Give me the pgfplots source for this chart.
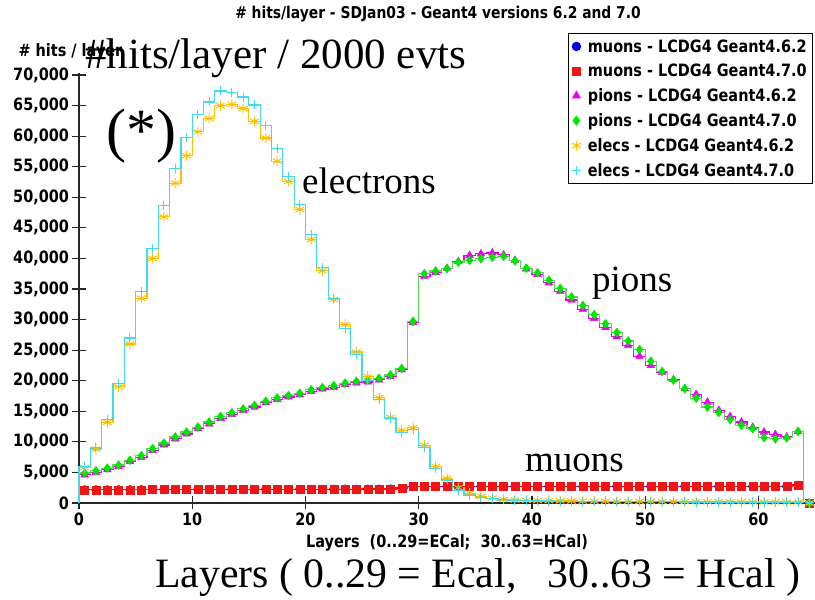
\documentclass[border=0pt]{standalone}
\usepackage{pgfplots}
\pgfplotsset{compat=1.18}
\usepackage{pgfplotstable}
\usepackage{fontspec}
\setmainfont{Liberation Serif}
\newfontfamily\axfont[FakeStretch=0.85]{DejaVu Sans}
\usetikzlibrary{plotmarks}

\definecolor{cyanL}{RGB}{64,218,235}
\definecolor{goldM}{RGB}{255,192,0}
\definecolor{magM}{RGB}{235,0,235}
\definecolor{grnM}{RGB}{0,230,0}
\definecolor{grnL}{RGB}{90,215,90}
\definecolor{redM}{RGB}{240,20,20}
\definecolor{bluM}{RGB}{0,0,230}

\pgfplotstableread{
layer mu62 mu70 pi62 pi70 el62 el70
0 0 0 0 0 0 0
0 2150 2150 4600 4900 5800 6000
1 2150 2150 5000 5250 8800 9000
2 2150 2160 5450 5700 13200 13600
3 2160 2160 6000 6200 19000 19600
4 2160 2170 6800 7000 26000 27000
5 2170 2170 7500 7750 33500 34600
6 2170 2180 8600 8900 40000 41600
7 2180 2180 9500 9800 46800 48600
8 2180 2190 10500 10800 52300 54700
9 2190 2190 11300 11600 56800 59800
10 2190 2200 12150 12400 60700 63500
11 2200 2200 12950 13250 62900 65600
12 2200 2210 13850 14150 65000 67400
13 2210 2210 14500 14750 65200 67200
14 2210 2220 15150 15400 64500 66400
15 2220 2220 15700 15950 62400 65100
16 2220 2230 16400 16650 59700 61800
17 2230 2230 16950 17200 55900 58000
18 2230 2240 17350 17600 52600 53400
19 2240 2240 17700 17950 48000 48800
20 2240 2250 18250 18500 43100 43900
21 2250 2250 18650 18900 38000 38500
22 2250 2260 18950 19200 33300 33400
23 2260 2260 19350 19600 29200 28600
24 2260 2270 19650 19900 24700 24300
25 2270 2280 19800 20050 20700 20000
26 2280 2290 20150 20400 17200 16900
27 2290 2300 20700 20950 14000 13800
28 2400 2450 21800 22000 11900 11500
29 2650 2700 29500 29700 12300 12000
30 2700 2750 37100 37500 9450 9100
31 2720 2750 37700 37950 6000 5650
32 2720 2750 38400 38350 4000 3750
33 2720 2750 39500 39400 2500 2100
34 2720 2750 40500 39700 1600 1300
35 2720 2750 40750 39950 1100 900
36 2720 2750 40900 40200 800 700
37 2720 2750 40600 40350 600 500
38 2720 2750 39700 39600 500 420
39 2720 2750 38300 38400 450 380
40 2720 2750 37400 37650 400 340
41 2720 2750 36000 36450 380 320
42 2720 2750 34600 35100 350 300
43 2720 2750 33200 33700 330 280
44 2720 2750 31700 32300 310 260
45 2720 2750 30200 30800 300 250
46 2720 2750 28700 29300 290 240
47 2720 2750 27200 27900 280 230
48 2720 2750 25800 26500 270 220
49 2720 2750 24000 25100 260 210
50 2720 2750 22500 23200 250 200
51 2720 2750 21400 21500 240 190
52 2720 2750 20200 20100 230 180
53 2720 2750 18700 18700 220 170
54 2720 2750 17750 17150 210 160
55 2720 2750 16500 15700 200 160
56 2720 2750 15150 14800 200 150
57 2720 2750 14150 13650 190 150
58 2720 2750 13250 12700 180 140
59 2720 2750 12400 12150 180 140
60 2720 2750 11600 10700 170 130
61 2720 2750 11200 10500 170 130
62 2720 2750 10800 10650 160 120
63 2900 2950 11700 11700 160 120
64 0 0 0 0 0 0
}\bins

\newcommand{\sfb}{\axfont\bfseries\fontsize{17bp}{19bp}\selectfont}

\begin{document}
\begin{tikzpicture}[x=1bp,y=1bp]
\path[use as bounding box] (-79,-97) rectangle (736,503);
\begin{axis}[
  at={(0,0)}, anchor=south west,
  scale only axis, width=736bp, height=429.8bp,
  xmin=0, xmax=65, ymin=0, ymax=70300,
  axis lines=left,
  axis line style={-, line width=1.3bp, black!85},
  clip=false,
  xtick={0,10,...,60}, ytick={0,5000,...,70000},
  tick align=center, major tick length=13bp,
  tick style={line width=1.2bp, black!85},
  scaled y ticks=false,
  yticklabel style={/pgf/number format/.cd, fixed, 1000 sep={,}},
  /pgf/number format/assume math mode=true,
  ticklabel style={font=\sfb},
  title={\# hits/layer - SDJan03 - Geant4 versions 6.2 and 7.0},
  title style={font=\axfont\bfseries\fontsize{16.3bp}{18bp}\selectfont, at={(axis description cs:0.5,1)}, anchor=center, xshift=-9bp, yshift=53bp},
  xlabel={Layers\ \ (0..29=ECal;\ \ 30..63=HCal)},
  xlabel style={font=\sfb, at={(axis description cs:0.5,0)}, anchor=center, yshift=-40bp},
  ylabel={\# hits / layer},
  ylabel style={rotate=-90, font=\sfb, at={(axis description cs:0,1)}, anchor=west, xshift=-64bp, yshift=21bp},
  legend cell align=left,
  legend style={at={(axis description cs:0.9973,1.0935)}, anchor=north east, draw=black, line width=0.8bp, font=\sfb, row sep=6.5bp, inner ysep=4bp, inner xsep=4bp, /tikz/every odd column/.append style={column sep=5bp}},
]
\addplot[const plot, bluM, line width=1.2bp, forget plot] table[x=layer,y=mu62]{\bins};
\addplot[only marks, mark=*, mark size=4.3bp, bluM, skip coords between index={0}{1}] table[x expr=\thisrow{layer}+0.5, y=mu62]{\bins};
\addlegendentry{muons - LCDG4 Geant4.6.2}
\addplot[const plot, redM, line width=1.2bp, forget plot] table[x=layer,y=mu70]{\bins};
\addplot[only marks, mark=square*, mark size=4bp, redM, skip coords between index={0}{1}] table[x expr=\thisrow{layer}+0.5, y=mu70]{\bins};
\addlegendentry{muons - LCDG4 Geant4.7.0}
\addplot[const plot, magM, line width=1.2bp, forget plot] table[x=layer,y=pi62]{\bins};
\addplot[only marks, mark=triangle*, mark size=4.5bp, magM, skip coords between index={0}{1}] table[x expr=\thisrow{layer}+0.5, y=pi62]{\bins};
\addlegendentry{pions - LCDG4 Geant4.6.2}
\addplot[const plot, grnL, line width=1.2bp, forget plot] table[x=layer,y=pi70]{\bins};
\addplot[only marks, mark=diamond*, mark size=4.5bp, grnM, skip coords between index={0}{1}] table[x expr=\thisrow{layer}+0.5, y=pi70]{\bins};
\addlegendentry{pions - LCDG4 Geant4.7.0}
\addplot[const plot, goldM, line width=1.2bp, forget plot] table[x=layer,y=el62]{\bins};
\addplot[only marks, mark=asterisk, mark size=5bp, goldM, line width=1bp, skip coords between index={0}{1}] table[x expr=\thisrow{layer}+0.5, y=el62]{\bins};
\addlegendentry{elecs - LCDG4 Geant4.6.2}
\addplot[const plot, cyanL, line width=1.2bp, forget plot] table[x=layer,y=el70]{\bins};
\addplot[only marks, mark=+, mark size=4.5bp, cyanL, line width=1bp, skip coords between index={0}{1}] table[x expr=\thisrow{layer}+0.5, y=el70]{\bins};
\addlegendentry{elecs - LCDG4 Geant4.7.0}
\end{axis}
\node[anchor=base west, inner sep=0, font=\fontsize{43bp}{43bp}\selectfont] at (6,434) {\#hits/layer / 2000 evts};
\node[anchor=center, inner sep=0, font=\fontsize{60bp}{60bp}\selectfont] at (62.5,366.5) {(*)};
\node[anchor=base west, inner sep=0, font=\fontsize{37bp}{37bp}\selectfont] at (223,309) {electrons};
\node[anchor=base west, inner sep=0, font=\fontsize{37bp}{37bp}\selectfont] at (513,211) {pions};
\node[anchor=base west, inner sep=0, font=\fontsize{37bp}{37bp}\selectfont] at (446,31) {muons};
\node[anchor=base west, inner sep=0, font=\fontsize{41.8bp}{42bp}\selectfont] at (76,-85) {Layers ( 0..29 = Ecal,\ \ \ 30..63 = Hcal )};
\end{tikzpicture}
\end{document}
